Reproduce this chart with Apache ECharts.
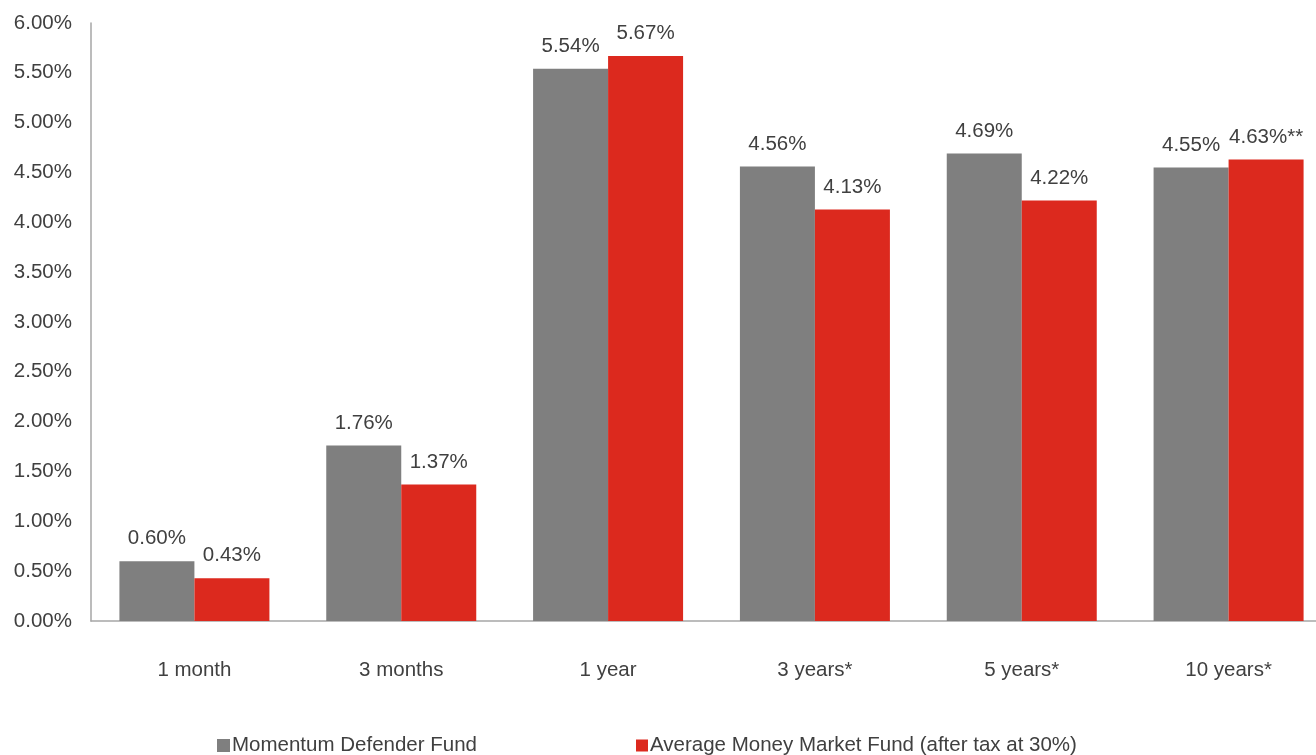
<!DOCTYPE html>
<html><head><meta charset="utf-8">
<script src="https://cdn.jsdelivr.net/npm/echarts@6/dist/echarts.min.js"></script>
<style>html,body{margin:0;padding:0;background:#fff;overflow:hidden;width:1316px;height:755px}#c{width:1332px;height:755px}</style>
</head><body><div id="c"></div>
<script>
const categories = ['1 month','3 months','1 year','3 years*','5 years*','10 years*'];
const fundValues = [0.60, 1.76, 5.54, 4.56, 4.69, 4.55];
const mmfValues = [0.43, 1.37, 5.67, 4.13, 4.22, 4.63];
const mmfLabelSuffix = ['', '', '', '', '', '**'];
const seriesNames = ['Momentum Defender Fund', 'Average Money Market Fund (after tax at 30%)'];

const font = 'Liberation Sans, Arial, sans-serif';
const fs = 20.5;
const chart = echarts.init(document.getElementById('c'), null, {renderer:'canvas'});
const legendText = {fontSize:fs, color:'#404040', fontFamily:font, padding:[0,0,0,-3]};
chart.setOption({
  animation:false,
  textStyle:{fontFamily:font},
  grid:{left:91, right:0, top:23, bottom:134},
  legend:[
    {data:[seriesNames[0]], left:217, top:735, itemWidth:13, itemHeight:13, icon:'rect', padding:0,
     textStyle:legendText},
    {data:[seriesNames[1]], left:636, top:735, itemWidth:12, itemHeight:12, icon:'rect', padding:0,
     textStyle:legendText}
  ],
  xAxis:{type:'category', data:categories,
    axisLine:{lineStyle:{color:'#a6a6a6', width:1.5}}, axisTick:{show:false},
    axisLabel:{color:'#404040', fontSize:fs, margin:39, fontFamily:font}},
  yAxis:{type:'value', min:0, max:6, interval:0.5,
    axisLine:{show:true, lineStyle:{color:'#a6a6a6', width:1.5}}, axisTick:{show:false},
    splitLine:{show:false},
    axisLabel:{color:'#404040', fontSize:fs, margin:19, fontFamily:font, formatter:v=>v.toFixed(2)+'%'}},
  series:[
    {name:seriesNames[0], type:'bar', data:fundValues, barGap:'0%', barWidth:75,
     itemStyle:{color:'#7f7f7f'},
     label:{show:true, position:'top', distance:12, color:'#404040', fontSize:fs, fontFamily:font,
       formatter:p=>p.value.toFixed(2)+'%'}},
    {name:seriesNames[1], type:'bar', data:mmfValues, barGap:'0%', barWidth:75,
     itemStyle:{color:'#dc291e'},
     label:{show:true, position:'top', distance:12, color:'#404040', fontSize:fs, fontFamily:font,
       formatter:p=>p.value.toFixed(2)+'%'+mmfLabelSuffix[p.dataIndex]}}
  ]
});
</script></body></html>
